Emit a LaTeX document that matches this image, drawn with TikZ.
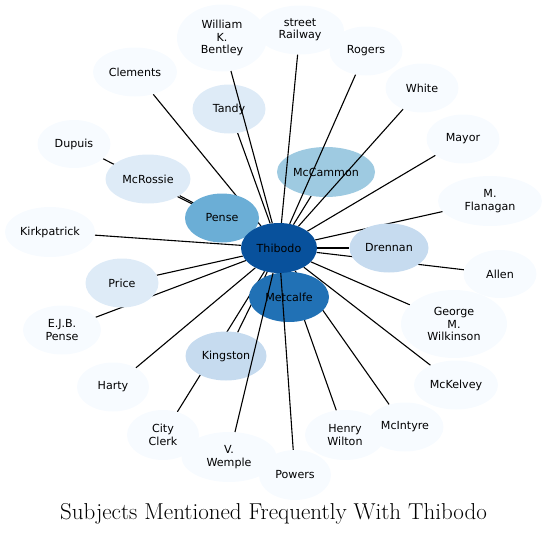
\documentclass[tikz,border=0pt]{standalone}
\usepackage{fontspec}
\newfontfamily\nodefont{DejaVu Sans}
\usepackage{tikz}
\usetikzlibrary{shapes.geometric,backgrounds}
\definecolor{blues1}{RGB}{247,251,255}
\definecolor{blues2}{RGB}{222,235,247}
\definecolor{blues3}{RGB}{198,219,239}
\definecolor{blues4}{RGB}{158,202,225}
\definecolor{blues5}{RGB}{107,174,214}
\definecolor{blues6}{RGB}{33,113,181}
\definecolor{blues7}{RGB}{8,81,156}
\tikzset{
  subj/.style={ellipse,inner sep=0pt,align=center,text=black,
    font=\nodefont\fontsize{11.1}{12.4}\selectfont},
  link/.style={black,line width=1.1pt}
}

\begin{document}
\begin{tikzpicture}[x=1pt,y=-1pt]
  % ---- frame (pixel coordinates, y down) ----
  \useasboundingbox (0,0) rectangle (547,536);

  % ---- subject nodes: name/x/y/width/height/colour/label ----
  \foreach \nm/\x/\y/\w/\h/\col/\lbl in {
      wkb/222/38/90/67/blues1/{William\\K.\\Bentley},
      street/300/30/88/49/blues1/{street\\Railway},
      rogers/366/51/73/49/blues1/Rogers,
      white/422/88/73/49/blues1/White,
      mayor/463/139/73/49/blues1/Mayor,
      flanagan/490/201/104/50/blues1/{M.\\Flanagan},
      allen/500/274/73/48/blues1/Allen,
      wilkinson/454/324/106/68/blues1/{George\\M.\\Wilkinson},
      mckelvey/456/385/84/49/blues1/McKelvey,
      wilton/345/435/80/50/blues1/{Henry\\Wilton},
      mcintyre/405/427/77/49/blues1/McIntyre,
      powers/295/475/72/50/blues1/Powers,
      clerk/163/435/72/50/blues1/{City\\Clerk},
      wemple/229/457/95/50/blues1/{V.\\Wemple},
      harty/113/387/72/49/blues1/Harty,
      ejbpense/62/330/78/49/blues1/{E.J.B.\\Pense},
      kirkpatrick/50/232/90/50/blues1/Kirkpatrick,
      dupuis/74/144/73/48/blues1/Dupuis,
      clements/135/72/84/49/blues1/Clements,
      tandy/229/109/73/49/blues2/Tandy,
      mcrossie/148/179/85/49/blues2/McRossie,
      price/122/283/73/49/blues2/Price,
      drennan/389/248/79/49/blues3/Drennan,
      kingston/226/356/81/49/blues3/Kingston,
      mccammon/326/172/98/50/blues4/McCammon,
      pense/222/218/74/49/blues5/Pense,
      metcalfe/289/297/80/50/blues6/Metcalfe}{
    \node[subj,fill=\col,minimum width=\w,minimum height=\h] (\nm) at (\x,\y) {\lbl};
  }
  \node[subj,fill=blues7,minimum width=76,minimum height=50] (thibodo) at (279,248) {Thibodo};

  % ---- links hidden under the other nodes ----
  \begin{scope}[on background layer]
    \foreach \nm in {clements,dupuis,mcrossie,kirkpatrick,price,ejbpense,harty,
                     kingston,clerk,pense,tandy,mccammon,mayor,flanagan,drennan,
                     allen,wilkinson,mckelvey,mcintyre,wilton,metcalfe}{
      \draw[link] (thibodo) -- (\nm);
    }
  \end{scope}

  % ---- links drawn over the nodes they cross ----
  \foreach \nm in {wkb,street,rogers,white,wemple,powers}{
    \draw[link] (thibodo) -- (\nm);
  }

  % ---- title ----
  \node[anchor=base,font=\fontsize{23}{27}\selectfont] (title) at (273.5,519)
    {Subjects Mentioned Frequently With Thibodo};
\end{tikzpicture}
\end{document}
